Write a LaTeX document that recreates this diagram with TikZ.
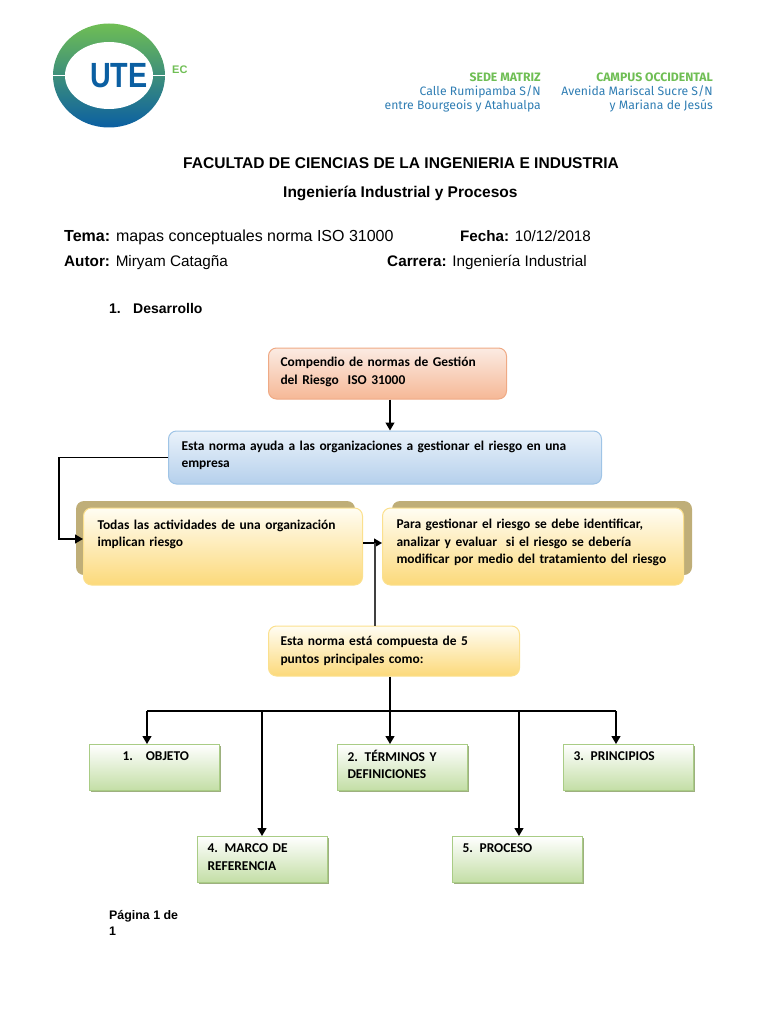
\documentclass[tikz,border=0pt]{standalone}
\usepackage{fontspec}
\setmainfont{Liberation Sans}
\newfontfamily\calibrifont{Carlito}
\newfontfamily\headfont{Fira Sans}
\usetikzlibrary{positioning,arrows.meta,shadows}

\definecolor{logogreen}{HTML}{6FBE54}
\definecolor{logoteal}{HTML}{2E8F88}
\definecolor{logoblue}{HTML}{0B5FA2}
\definecolor{headblue}{HTML}{2F7DB3}
\definecolor{backtan}{HTML}{BFAE78}
\definecolor{orangetop}{HTML}{FBEBE3}
\definecolor{orangebot}{HTML}{F6B896}
\definecolor{orangeline}{HTML}{EFAA85}
\definecolor{bluetop}{HTML}{EAF2FA}
\definecolor{bluebot}{HTML}{B5D0EC}
\definecolor{blueline}{HTML}{9FC4E6}
\definecolor{yellowtop}{HTML}{FFFDF3}
\definecolor{yellowbot}{HTML}{FCD97A}
\definecolor{yellowline}{HTML}{FBE08E}
\definecolor{greenbot}{HTML}{C3DEA5}
\definecolor{greenline}{HTML}{A9CC85}
\definecolor{greenshade}{HTML}{9DB07F}

\tikzset{
    txt/.style={anchor=base west,inner sep=0pt},
    txtr/.style={anchor=base east,inner sep=0pt,font=\headfont\fontsize{12.2}{13}\selectfont,text=headblue},
    greenhead/.style={txtr,font=\headfont\bfseries\fontsize{12.2}{13}\selectfont,text=logogreen},
    pad/.style={execute at end node={\par\vspace{#1}}},
    conbox/.style={anchor=north west,align=left,rounded corners=8pt,line width=1pt,inner ysep=0pt,
        font=\calibrifont\bfseries\fontsize{13.45}{17.6}\selectfont},
    orangebox/.style={conbox,draw=orangeline,top color=orangetop,bottom color=orangebot},
    bluebox/.style={conbox,draw=blueline,top color=bluetop,bottom color=bluebot},
    yellowbox/.style={conbox,draw=yellowline,top color=yellowtop,bottom color=yellowbot},
    greenbox/.style={conbox,rounded corners=0pt,draw=greenline,top color=white,bottom color=greenbot,
        minimum height=46pt,inner xsep=10pt,text width=110pt,
        drop shadow={shadow xshift=1pt,shadow yshift=-1.5pt,fill=greenshade,opacity=1}},
    arrow/.style={-{Triangle[length=8pt,width=9pt]},line width=1.2pt},
    link/.style={line width=1.2pt},
}

\begin{document}
\begin{tikzpicture}[x=1pt,y=-1pt]
    \useasboundingbox (0,0) rectangle (768,1024);

    % logo
    \shade[top color=logogreen,middle color=logoteal,bottom color=logoblue] (109,75.5) ellipse [x radius=56,y radius=52];
    \fill[white] (109,75.5) ellipse [x radius=44,y radius=33.5];
    \fill[white] (50,74.7) rectangle (168,76.3);
    \node[txt,font=\bfseries\fontsize{35}{35}\selectfont,text=logoblue,xscale=0.82,transform shape] (ute) at (90,88) {UTE};
    \node[txt,font=\bfseries\fontsize{11}{11}\selectfont,text=logogreen] (ec) at (172,73.5) {EC};

    % address
    \node[greenhead] (sede) at (541,82) {SEDE MATRIZ};
    \node[txtr] (calle) at (541,96) {Calle Rumipamba S/N};
    \node[txtr] (entre) at (541,110) {entre Bourgeois y Atahualpa};
    \node[greenhead] (campus) at (713,82) {CAMPUS OCCIDENTAL};
    \node[txtr] (avenida) at (713,96) {Avenida Mariscal Sucre S/N};
    \node[txtr] (mariana) at (713,110) {y Mariana de Jesús};

    % title
    \node[txt,font=\bfseries\fontsize{15.55}{16}\selectfont] (facultad) at (183,169) {FACULTAD DE CIENCIAS DE LA INGENIERIA E INDUSTRIA};
    \node[txt,font=\bfseries\fontsize{15.5}{16}\selectfont] (carrera) at (283,198) {Ingeniería Industrial y Procesos};

    \node[txt,font=\fontsize{16}{18}\selectfont] (tema) at (64,241) {\textbf{Tema:} mapas conceptuales norma ISO 31000};
    \node[txt,font=\fontsize{15.2}{18}\selectfont] (fecha) at (460,241) {\textbf{Fecha:} 10/12/2018};
    \node[txt,font=\fontsize{15.3}{18}\selectfont] (autor) at (64,266) {\textbf{Autor:} Miryam Catagña};
    \node[txt,font=\fontsize{15.3}{18}\selectfont] (carr) at (387,266) {\textbf{Carrera:} Ingeniería Industrial};

    \node[txt,font=\bfseries\fontsize{14}{16}\selectfont] (num) at (109,313) {1.};
    \node[txt,font=\bfseries\fontsize{14}{16}\selectfont] (desarrollo) at (133,313) {Desarrollo};

    % backing of the two yellow boxes
    \fill[backtan,rounded corners=8pt] (76,501) rectangle (355,575);
    \fill[backtan,rounded corners=8pt] (392,501) rectangle (692,575);

    % boxes
    \node[orangebox,inner xsep=12pt,text width=214pt,minimum height=51pt,pad=3pt] (norma) at (268,347.5)
        {Compendio de normas de Gestión\\del Riesgo~ ISO 31000};
    \node[bluebox,inner xsep=13pt,text width=407pt,minimum height=53pt,pad=4pt] (ayuda) at (168,430.5)
        {Esta norma ayuda a las organizaciones a gestionar el riesgo en una\\empresa};
    \node[yellowbox,inner xsep=14pt,text width=251pt,minimum height=77pt,pad=24pt] (todas) at (83,507.5)
        {Todas las actividades de una organización\\implican riesgo};
    \node[yellowbox,inner xsep=14pt,text width=273pt,minimum height=77pt,pad=8pt] (para) at (382,507.5)
        {Para gestionar el riesgo se debe identificar,\\analizar y evaluar~ si el riesgo se debería\\modificar por medio del tratamiento del riesgo};
    \node[yellowbox,inner xsep=12pt,text width=227pt,minimum height=50pt] (compuesta) at (268,625.5)
        {Esta norma está compuesta de 5\\puntos principales como:};

    \node[greenbox,pad=22pt] (objeto) at (89,744) {\hspace*{23pt}1.\hspace{13pt}OBJETO};
    \node[greenbox,pad=6pt] (terminos) at (337,744) {2. TÉRMINOS Y\\DEFINICIONES};
    \node[greenbox,pad=22pt] (principios) at (563,744) {3. PRINCIPIOS};
    \node[greenbox,pad=5pt] (marco) at (197,836) {4. MARCO DE\\REFERENCIA};
    \node[greenbox,pad=22pt] (proceso) at (452,836) {5. PROCESO};

    % connectors
    \coordinate (todasturn) at (59,539);
    \coordinate (joint) at (375,543);
    \coordinate (trunk) at (390,711);
    \coordinate (trunkobjeto) at (147,711);
    \coordinate (trunkmarco) at (262,711);
    \coordinate (trunkproceso) at (519,711);
    \coordinate (trunkprincipios) at (616,711);

    \draw[arrow] (norma.south -| trunk) -- (ayuda.north -| trunk);
    \draw[arrow] (ayuda.west) -| (todasturn) -- (todasturn -| todas.west);
    \draw[arrow] (joint -| todas.east) -- (joint -| para.west);
    \draw[link,black!75] (compuesta.north -| joint) -- (joint);
    \draw[link] (compuesta.south -| trunk) -- (trunk);
    \draw[link] (trunkobjeto) -- (trunkprincipios);
    \draw[arrow] (trunkobjeto) -- (trunkobjeto |- objeto.north);
    \draw[arrow] (trunkmarco) -- (trunkmarco |- marco.north);
    \draw[arrow] (trunk) -- (trunk |- terminos.north);
    \draw[arrow] (trunkproceso) -- (trunkproceso |- proceso.north);
    \draw[arrow] (trunkprincipios) -- (trunkprincipios |- principios.north);

    \node[txt,font=\bfseries\fontsize{12.4}{16}\selectfont,align=left,anchor=north west] (pagina) at (109,910) {Página 1 de\\1};
\end{tikzpicture}
\end{document}
